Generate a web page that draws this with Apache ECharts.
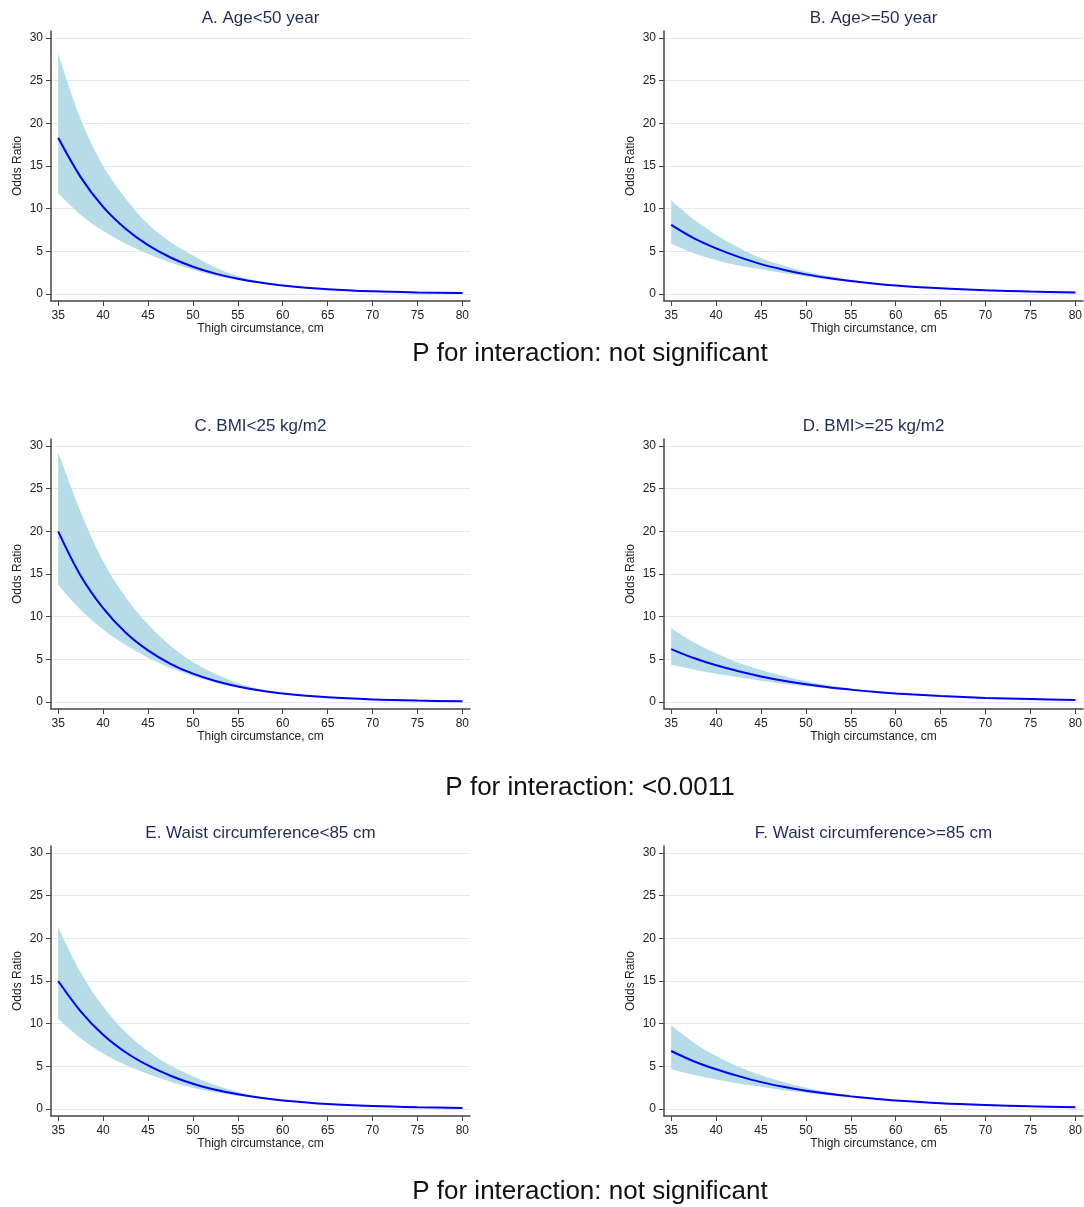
<!DOCTYPE html>
<html>
<head>
<meta charset="utf-8">
<script src="https://cdn.jsdelivr.net/npm/echarts@6/dist/echarts.min.js"></script>
<style>html,body{margin:0;padding:0;background:#fff}#main{width:1084px;height:1207px}</style>
</head>
<body>
<div id="main"></div>
<script>
// thigh circumference (cm) at which curves were read
var xs = [35, 37.5, 40, 42.5, 45, 47.5, 50, 52.5, 55, 57.5, 60, 65, 70, 75, 80];
var xTicks = [35, 40, 45, 50, 55, 60, 65, 70, 75, 80];
var yTicks = [0, 5, 10, 15, 20, 25, 30];

var titles = ['A. Age<50 year', 'B. Age>=50 year', 'C. BMI<25 kg/m2', 'D. BMI>=25 kg/m2',
              'E. Waist circumference<85 cm', 'F. Waist circumference>=85 cm'];
var notes = ['P for interaction: not significant', 'P for interaction: <0.0011', 'P for interaction: not significant'];

var orA = [18.3, 13.7, 10.2, 7.65, 5.72, 4.28, 3.2, 2.39, 1.79, 1.34, 1.0, 0.56, 0.31, 0.18, 0.11];
var upA = [28.2, 20.5, 15.0, 11.2, 8.2, 6.1, 4.5, 3.1, 2.1, 1.45, 1.02, 0.62, 0.38, 0.24, 0.16];
var loA = [11.8, 9.3, 7.4, 5.9, 4.7, 3.7, 2.85, 2.15, 1.65, 1.28, 0.98, 0.5, 0.25, 0.13, 0.07];

var orB = [8.1, 6.55, 5.35, 4.35, 3.5, 2.85, 2.3, 1.87, 1.52, 1.23, 1.0, 0.66, 0.43, 0.28, 0.19];
var upB = [11.0, 8.75, 6.95, 5.45, 4.2, 3.35, 2.65, 2.1, 1.65, 1.28, 1.01, 0.71, 0.5, 0.35, 0.25];
var loB = [5.9, 4.8, 3.95, 3.35, 2.9, 2.45, 2.05, 1.7, 1.42, 1.18, 0.99, 0.61, 0.37, 0.22, 0.14];

var orC = [20.0, 14.8, 11.0, 8.15, 6.05, 4.48, 3.32, 2.46, 1.82, 1.35, 1.0, 0.55, 0.3, 0.165, 0.09];
var upC = [29.3, 22.3, 16.5, 12.3, 9.1, 6.6, 4.7, 3.3, 2.2, 1.5, 1.02, 0.6, 0.36, 0.22, 0.14];
var loC = [13.7, 10.8, 8.5, 6.7, 5.2, 4.0, 3.05, 2.3, 1.72, 1.3, 0.98, 0.5, 0.25, 0.12, 0.06];

var orD = [6.2, 5.15, 4.3, 3.6, 3.0, 2.5, 2.08, 1.73, 1.45, 1.2, 1.0, 0.7, 0.48, 0.34, 0.24];
var upD = [8.65, 7.0, 5.7, 4.6, 3.75, 3.05, 2.45, 1.95, 1.57, 1.25, 1.01, 0.75, 0.55, 0.41, 0.31];
var loD = [4.36, 3.8, 3.3, 2.9, 2.5, 2.15, 1.85, 1.58, 1.35, 1.15, 0.99, 0.65, 0.42, 0.28, 0.19];

var orE = [15.0, 11.45, 8.7, 6.65, 5.1, 3.9, 2.95, 2.25, 1.72, 1.31, 1.0, 0.58, 0.34, 0.2, 0.12];
var upE = [21.3, 16.0, 12.0, 9.0, 6.8, 5.1, 3.85, 2.8, 2.0, 1.4, 1.02, 0.63, 0.4, 0.26, 0.17];
var loE = [10.55, 8.3, 6.5, 5.15, 4.1, 3.2, 2.5, 1.95, 1.55, 1.25, 0.98, 0.53, 0.28, 0.15, 0.08];

var orF = [6.8, 5.6, 4.65, 3.85, 3.15, 2.6, 2.15, 1.78, 1.48, 1.22, 1.0, 0.68, 0.47, 0.32, 0.22];
var upF = [9.8, 7.8, 6.2, 4.95, 3.95, 3.15, 2.5, 2.0, 1.6, 1.27, 1.01, 0.73, 0.53, 0.39, 0.29];
var loF = [4.67, 4.0, 3.45, 3.0, 2.6, 2.2, 1.9, 1.6, 1.36, 1.16, 0.99, 0.63, 0.41, 0.26, 0.17];

var panels = [[orA, upA, loA], [orB, upB, loB], [orC, upC, loC], [orD, upD, loD], [orE, upE, loE], [orF, upF, loF]];

var FONT = '"Liberation Sans", Arial, Helvetica, sans-serif';
var bandColor = '#b5dce7';
var lineColor = '#0000ff';
var axisColor = '#444';

// panel placement
var lefts = [51, 664];
var tops = [31, 439, 846];
var W = 419, H = 270;
var noteY = [341, 775, 1179];

var myChart = echarts.init(document.getElementById('main'));

var grid = [], xAxis = [], yAxis = [], series = [], title = [];

panels.forEach(function (p, i) {
    var col = i % 2, row = Math.floor(i / 2);
    var left = lefts[col], top = tops[row];
    grid.push({left: left, top: top, width: W, height: H, outerBoundsMode: 'none', containLabel: false});
    xAxis.push({
        type: 'value', gridIndex: i, min: 34.2, max: 80.85,
        name: 'Thigh circumstance, cm', nameLocation: 'middle', nameGap: 20,
        nameTextStyle: {fontSize: 12, color: '#222', fontFamily: FONT},
        axisLine: {show: true, onZero: false, lineStyle: {color: axisColor, width: 1.5}},
        axisTick: {show: true, length: 5, lineStyle: {color: axisColor}, customValues: xTicks},
        axisLabel: {fontSize: 12, color: '#222', fontFamily: FONT, margin: 9, customValues: xTicks},
        splitLine: {show: false}
    });
    yAxis.push({
        type: 'value', gridIndex: i, min: -0.82, max: 30.82,
        name: 'Odds Ratio', nameLocation: 'middle', nameGap: 27,
        nameTextStyle: {fontSize: 12, color: '#222', fontFamily: FONT},
        axisLine: {show: true, lineStyle: {color: axisColor, width: 1.5}},
        axisTick: {show: true, length: 5, lineStyle: {color: axisColor}, customValues: yTicks},
        axisLabel: {fontSize: 12, color: '#222', fontFamily: FONT, margin: 8, customValues: yTicks},
        splitLine: {show: true, lineStyle: {color: '#e4e8f2', width: 1}}
    });
    title.push({
        text: titles[i], left: left + W / 2, top: top - 21, textAlign: 'center', padding: 0,
        textStyle: {fontSize: 17, fontWeight: 'normal', color: '#1f2d5c', fontFamily: FONT}
    });
    var or = p[0], up = p[1], lo = p[2];
    // data columns are [y, x] so the stacked dimension is the odds ratio
    series.push({
        type: 'line', xAxisIndex: i, yAxisIndex: i, stack: 'ci' + i, symbol: 'none', silent: true,
        smooth: 0.35, encode: {x: 1, y: 0},
        lineStyle: {opacity: 0}, data: xs.map(function (x, k) { return [lo[k], x]; })
    });
    series.push({
        type: 'line', xAxisIndex: i, yAxisIndex: i, stack: 'ci' + i, symbol: 'none', silent: true,
        smooth: 0.35, encode: {x: 1, y: 0},
        lineStyle: {opacity: 0}, areaStyle: {color: bandColor, opacity: 1},
        data: xs.map(function (x, k) { return [up[k] - lo[k], x]; })
    });
    series.push({
        type: 'line', xAxisIndex: i, yAxisIndex: i, symbol: 'none', silent: true,
        smooth: 0.35,
        lineStyle: {color: lineColor, width: 2}, z: 5,
        data: xs.map(function (x, k) { return [x, or[k]]; })
    });
});

notes.forEach(function (t, r) {
    title.push({
        text: t, left: 590, top: noteY[r], textAlign: 'center', padding: 0,
        textStyle: {fontSize: 26, fontWeight: 'normal', color: '#111', fontFamily: FONT}
    });
});

var option = {
    animation: false,
    backgroundColor: '#fff',
    title: title,
    grid: grid,
    xAxis: xAxis,
    yAxis: yAxis,
    series: series
};

myChart.setOption(option);
</script>
</body>
</html>
